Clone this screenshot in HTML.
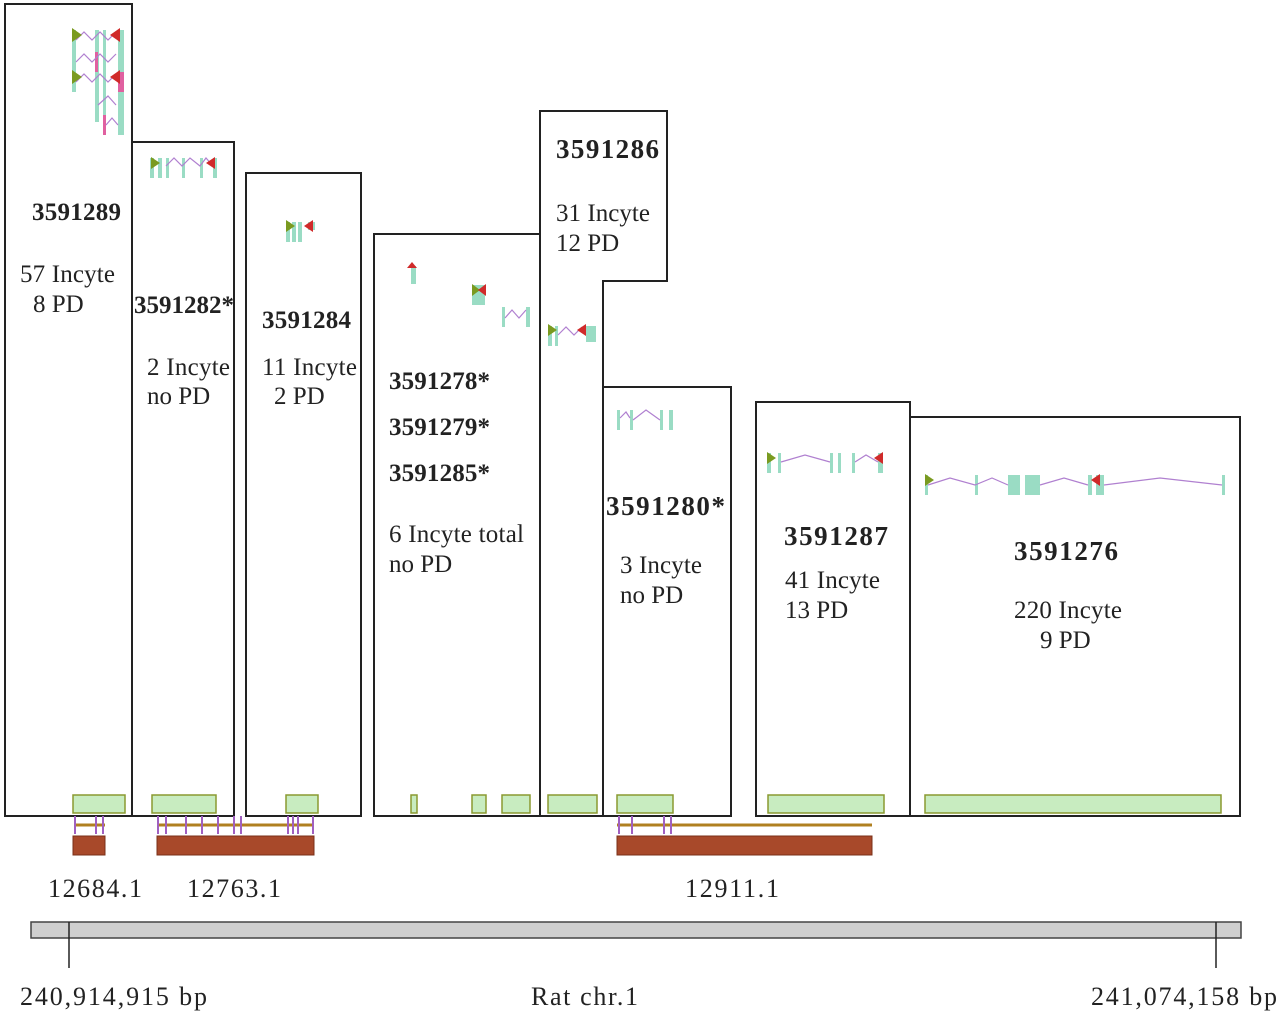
<!DOCTYPE html>
<html><head><meta charset="utf-8"><style>
body{margin:0;background:#fff}
svg{display:block}
text{font-family:"Liberation Serif",serif;fill:#222}
.b{font-weight:bold;font-size:25px}
.n{font-size:25px}
.box{fill:none;stroke:#222;stroke-width:2}
.g{fill:#c8ecc0;stroke:#8a9a30;stroke-width:1.5}
.br{fill:#a8492a;stroke:#7a3018;stroke-width:1}
.ex{fill:#9adcc4}
.in{fill:none;stroke:#b080d0;stroke-width:1.2}
.pk{fill:#e060a0}
.pu{stroke:#a060c0;stroke-width:2}
</style></head><body>
<svg width="1280" height="1017" viewBox="0 0 1280 1017">
<g>
<rect class="box" x="5" y="4" width="127" height="812"/>
<rect class="box" x="132" y="142" width="102" height="674"/>
<rect class="box" x="246" y="173" width="115" height="643"/>
<rect class="box" x="374" y="234" width="166" height="582"/>
<polygon class="box" points="540,816 540,111 667,111 667,281 603,281 603,816"/>
<rect class="box" x="603" y="387" width="128" height="429"/>
<rect class="box" x="756" y="402" width="154" height="414"/>
<rect class="box" x="910" y="417" width="330" height="399"/>
</g>
<g>
<g>
<rect class="ex" x="72" y="30" width="4" height="62"/><rect class="ex" x="95" y="30" width="4" height="92"/><rect class="ex" x="103" y="30" width="3" height="92"/><rect class="ex" x="118" y="30" width="6" height="105"/>
<rect class="pk" x="95" y="52" width="3" height="20"/><rect class="pk" x="118" y="72" width="6" height="20"/><rect class="pk" x="103" y="115" width="3" height="20"/>
<polyline class="in" points="76,40 84,32 92,40 100,32 108,40 116,32"/><polyline class="in" points="76,62 84,54 92,62 100,54 108,62 116,54"/><polyline class="in" points="76,82 84,74 92,82 100,74 108,82 116,74"/><polyline class="in" points="98,105 108,96 116,105"/><polyline class="in" points="106,125 112,118 118,125"/>
<polygon fill="#7a9a20" points="72,28 72,42 82,35"/><polygon fill="#d02a2a" points="120,28 120,42 110,35"/><polygon fill="#7a9a20" points="72,70 72,84 82,77"/><polygon fill="#d02a2a" points="120,70 120,84 110,77"/>
</g>
<g>
<rect class="ex" x="150" y="158" width="4" height="20"/><rect class="ex" x="158" y="158" width="4" height="20"/><rect class="ex" x="166" y="158" width="3" height="20"/><rect class="ex" x="182" y="158" width="3" height="20"/><rect class="ex" x="200" y="158" width="3" height="20"/><rect class="ex" x="213" y="158" width="4" height="20"/>
<polyline class="in" points="166,166 174,158 182,166 190,158 200,166 206,158 213,166"/>
<polygon fill="#7a9a20" points="151,157 151,169 160,163"/><polygon fill="#d02a2a" points="215,157 215,169 206,163"/>
</g>
<g>
<rect class="ex" x="286" y="222" width="4" height="20"/><rect class="ex" x="292" y="222" width="4" height="20"/><rect class="ex" x="298" y="222" width="4" height="20"/><rect class="ex" x="308" y="222" width="7" height="8"/>
<polygon fill="#7a9a20" points="286,220 286,232 295,226"/><polygon fill="#d02a2a" points="313,220 313,232 304,226"/>
</g>
<g>
<rect class="ex" x="411" y="266" width="5" height="18"/><polygon fill="#d02a2a" points="407,268 417,268 412,262"/>
<rect class="ex" x="472" y="285" width="13" height="20"/><polygon fill="#7a9a20" points="472,284 472,296 480,290"/><polygon fill="#d02a2a" points="486,284 486,296 478,290"/>
<rect class="ex" x="502" y="307" width="3" height="20"/><rect class="ex" x="526" y="307" width="4" height="20"/><polyline class="in" points="505,318 512,310 519,318 526,310"/>
</g>
<g>
<rect class="ex" x="548" y="326" width="4" height="20"/><rect class="ex" x="555" y="326" width="3" height="20"/><rect class="ex" x="586" y="326" width="10" height="16"/>
<polyline class="in" points="558,335 566,327 574,335 582,327"/>
<polygon fill="#7a9a20" points="548,324 548,336 557,330"/><polygon fill="#d02a2a" points="586,324 586,336 577,330"/>
</g>
<g>
<rect class="ex" x="617" y="410" width="3" height="20"/><rect class="ex" x="630" y="410" width="3" height="20"/><rect class="ex" x="660" y="410" width="3" height="20"/><rect class="ex" x="669" y="410" width="4" height="20"/>
<polyline class="in" points="620,418 626,412 630,418"/><polyline class="in" points="633,420 646,410 660,420"/>
</g>
<g>
<rect class="ex" x="767" y="453" width="4" height="20"/><rect class="ex" x="778" y="453" width="3" height="20"/><rect class="ex" x="830" y="453" width="3" height="20"/><rect class="ex" x="838" y="453" width="3" height="20"/><rect class="ex" x="852" y="453" width="3" height="20"/><rect class="ex" x="878" y="453" width="5" height="20"/>
<polyline class="in" points="781,462 805,455 830,462"/><polyline class="in" points="855,462 866,455 878,462"/>
<polygon fill="#7a9a20" points="767,452 767,464 776,458"/><polygon fill="#d02a2a" points="883,452 883,464 874,458"/>
</g>
<g>
<rect class="ex" x="925" y="475" width="3" height="20"/><rect class="ex" x="975" y="475" width="3" height="20"/><rect class="ex" x="1008" y="475" width="12" height="20"/><rect class="ex" x="1025" y="475" width="15" height="20"/><rect class="ex" x="1088" y="475" width="4" height="20"/><rect class="ex" x="1096" y="475" width="8" height="20"/><rect class="ex" x="1222" y="475" width="3" height="20"/>
<polyline class="in" points="928,485 950,478 975,485 992,478 1008,485"/><polyline class="in" points="1040,485 1064,478 1088,485"/><polyline class="in" points="1104,485 1160,478 1222,485"/>
<polygon fill="#7a9a20" points="925,474 925,486 934,480"/><polygon fill="#d02a2a" points="1100,474 1100,486 1091,480"/>
</g>
</g>
<g>
<rect class="g" x="73" y="795" width="52" height="18"/><rect class="g" x="152" y="795" width="64" height="18"/><rect class="g" x="286" y="795" width="32" height="18"/><rect class="g" x="411" y="795" width="6" height="18"/><rect class="g" x="472" y="795" width="14" height="18"/><rect class="g" x="502" y="795" width="28" height="18"/><rect class="g" x="548" y="795" width="49" height="18"/><rect class="g" x="617" y="795" width="56" height="18"/><rect class="g" x="768" y="795" width="116" height="18"/><rect class="g" x="925" y="795" width="296" height="18"/>
</g>
<g>
<g stroke="#b08020" stroke-width="3"><line x1="75" y1="825" x2="105" y2="825"/><line x1="157" y1="825" x2="314" y2="825"/><line x1="617" y1="825" x2="872" y2="825"/></g>
<g class="pu"><line x1="75" y1="816" x2="75" y2="834"/><line x1="96" y1="816" x2="96" y2="834"/><line x1="103" y1="816" x2="103" y2="834"/><line x1="158" y1="816" x2="158" y2="834"/><line x1="166" y1="816" x2="166" y2="834"/><line x1="186" y1="816" x2="186" y2="834"/><line x1="202" y1="816" x2="202" y2="834"/><line x1="218" y1="816" x2="218" y2="834"/><line x1="234" y1="816" x2="234" y2="834"/><line x1="241" y1="816" x2="241" y2="834"/><line x1="288" y1="816" x2="288" y2="834"/><line x1="293" y1="816" x2="293" y2="834"/><line x1="298" y1="816" x2="298" y2="834"/><line x1="313" y1="816" x2="313" y2="834"/><line x1="619" y1="816" x2="619" y2="834"/><line x1="632" y1="816" x2="632" y2="834"/><line x1="664" y1="816" x2="664" y2="834"/><line x1="671" y1="816" x2="671" y2="834"/></g>
<rect class="br" x="73" y="836" width="32" height="19"/>
<rect class="br" x="157" y="836" width="157" height="19"/>
<rect class="br" x="617" y="836" width="255" height="19"/>
</g>
<g>
<text class="b" x="32" y="220" textLength="89">3591289</text><text class="n" x="20" y="282" textLength="95">57 Incyte</text><text class="n" x="33" y="312">8 PD</text>
<text class="b" x="134" y="313" textLength="100">3591282*</text><text class="n" x="147" y="375" textLength="83">2 Incyte</text><text class="n" x="147" y="404">no PD</text>
<text class="b" x="262" y="328" textLength="89">3591284</text><text class="n" x="262" y="375" textLength="95">11 Incyte</text><text class="n" x="274" y="404">2 PD</text>
<text class="b" x="389" y="389" textLength="101">3591278*</text><text class="b" x="389" y="435" textLength="101">3591279*</text><text class="b" x="389" y="481" textLength="101">3591285*</text><text class="n" x="389" y="542" textLength="135">6 Incyte total</text><text class="n" x="389" y="572">no PD</text>
<text class="b" x="556" y="158" style="font-size:27px" textLength="103">3591286</text><text class="n" x="556" y="221" textLength="94">31 Incyte</text><text class="n" x="556" y="251">12 PD</text>
<text class="b" x="606" y="515" style="font-size:27px" textLength="119">3591280*</text><text class="n" x="620" y="573" textLength="82">3 Incyte</text><text class="n" x="620" y="603">no PD</text>
<text class="b" x="784" y="545" style="font-size:27px" textLength="104">3591287</text><text class="n" x="785" y="588" textLength="95">41 Incyte</text><text class="n" x="785" y="618">13 PD</text>
<text class="b" x="1014" y="560" style="font-size:27px" textLength="104">3591276</text><text class="n" x="1014" y="618" textLength="108">220 Incyte</text><text class="n" x="1040" y="648">9 PD</text>
</g>
<g>
<text class="n" x="48" y="897" style="font-size:26px" textLength="94">12684.1</text><text class="n" x="187" y="897" style="font-size:26px" textLength="94">12763.1</text><text class="n" x="685" y="897" style="font-size:26px" textLength="94">12911.1</text>
</g>
<g>
<rect x="31" y="922" width="1210" height="16" fill="#cfcfcf" stroke="#444" stroke-width="1.5"/>
<line x1="69" y1="922" x2="69" y2="968" stroke="#222" stroke-width="1.5"/><line x1="1216" y1="922" x2="1216" y2="968" stroke="#222" stroke-width="1.5"/>
<text class="n" x="20" y="1005" style="font-size:26px" textLength="187">240,914,915 bp</text>
<text class="n" x="531" y="1005" style="font-size:26px" textLength="107">Rat chr.1</text>
<text class="n" x="1091" y="1005" style="font-size:26px" textLength="186">241,074,158 bp</text>
</g>
</svg>
</body></html>
